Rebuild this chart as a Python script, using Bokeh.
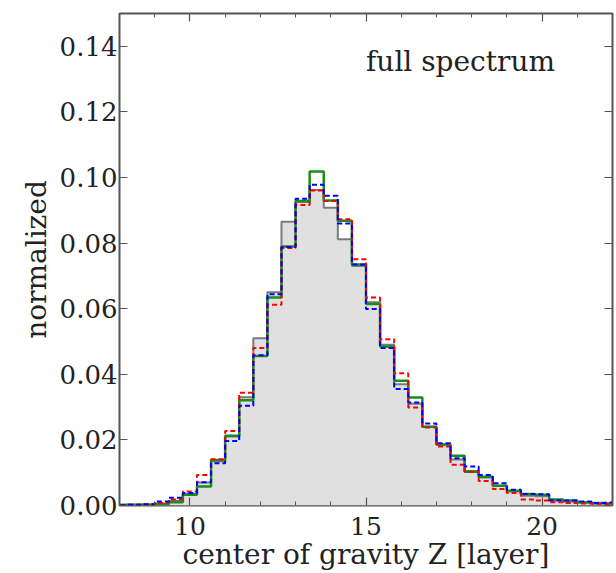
from bokeh.plotting import figure
from bokeh.models import Range1d, FixedTicker, LinearAxis, PrintfTickFormatter, Label
from bokeh.embed import file_html
from bokeh.resources import INLINE

# bin edges of the histograms (layer units)
edges = [7.8, 8.2, 8.6, 9.0, 9.4, 9.8, 10.2, 10.6, 11.0, 11.4, 11.8, 12.2, 12.6,
         13.0, 13.4, 13.8, 14.2, 14.6, 15.0, 15.4, 15.8, 16.2, 16.6, 17.0, 17.4,
         17.8, 18.2, 18.6, 19.0, 19.4, 19.8, 20.2, 20.6, 21.0, 21.4, 21.8, 22.2]

gray_vals = [0.0001, 0.0002, 0.0003, 0.0006, 0.0014, 0.0035, 0.0070, 0.0135, 0.0210,
             0.0330, 0.0510, 0.0650, 0.0865, 0.0925, 0.0962, 0.0908, 0.0812, 0.0730,
             0.0620, 0.0490, 0.0370, 0.0310, 0.0240, 0.0185, 0.0140, 0.0105, 0.0085,
             0.0060, 0.0043, 0.0030, 0.0028, 0.0015, 0.0012, 0.0009, 0.0006, 0.0005]
red_vals = [0.0001, 0.0002, 0.0002, 0.0008, 0.0018, 0.0043, 0.0093, 0.0141, 0.0227,
            0.0344, 0.0480, 0.0612, 0.0785, 0.0916, 0.0960, 0.0928, 0.0873, 0.0751,
            0.0634, 0.0507, 0.0403, 0.0299, 0.0238, 0.0180, 0.0124, 0.0103, 0.0075,
            0.0050, 0.0038, 0.0018, 0.0015, 0.0010, 0.0008, 0.0006, 0.0005, 0.0004]
blue_vals = [0.0001, 0.0002, 0.0004, 0.0012, 0.0024, 0.0038, 0.0071, 0.0129, 0.0197,
             0.0304, 0.0458, 0.0644, 0.0788, 0.0935, 0.0978, 0.0944, 0.0860, 0.0735,
             0.0599, 0.0480, 0.0355, 0.0314, 0.0250, 0.0190, 0.0144, 0.0119, 0.0093,
             0.0068, 0.0048, 0.0035, 0.0034, 0.0016, 0.0015, 0.0012, 0.0008, 0.0009]
green_vals = [0.0002, 0.0002, 0.0002, 0.0004, 0.0010, 0.0033, 0.0058, 0.0139, 0.0213,
              0.0321, 0.0456, 0.0634, 0.0790, 0.0928, 0.1018, 0.0930, 0.0868, 0.0735,
              0.0614, 0.0485, 0.0380, 0.0329, 0.0240, 0.0186, 0.0152, 0.0103, 0.0088,
              0.0060, 0.0045, 0.0035, 0.0033, 0.0018, 0.0015, 0.0010, 0.0008, 0.0006]

x_major = [10, 15, 20]
x_minor = [8, 9, 11, 12, 13, 14, 16, 17, 18, 19, 21, 22]
y_major = [0.00, 0.02, 0.04, 0.06, 0.08, 0.10, 0.12, 0.14]

FONT = "DejaVu Serif"
TXT = "#222222"
FRAME = "#555555"

p = figure(width=614, height=573, x_range=Range1d(8, 22), y_range=Range1d(0, 0.15),
           output_backend="svg", toolbar_location=None,
           min_border_left=119, min_border_right=2, min_border_top=13, min_border_bottom=60)
p.grid.visible = False
p.background_fill_color = "white"
p.border_fill_color = "white"
p.outline_line_color = FRAME
p.outline_line_width = 2

# histograms
p.varea_step(x=edges, y1=[0] * len(edges), y2=gray_vals + gray_vals[-1:],
             step_mode="after", fill_color="#e0e0e0")
p.step(edges, gray_vals + gray_vals[-1:], mode="after", line_color="#7a7a7a", line_width=2)
p.step(edges, green_vals + green_vals[-1:], mode="after", line_color="#1a8c1a", line_width=2.5)
p.step(edges, red_vals + red_vals[-1:], mode="after", line_color="#ff0000", line_width=2,
       line_dash="5 3")
p.step(edges, blue_vals + blue_vals[-1:], mode="after", line_color="#0000ff", line_width=2,
       line_dash="5 3")

xt = FixedTicker(ticks=x_major, minor_ticks=x_minor)
yt = FixedTicker(ticks=y_major, minor_ticks=[])

def style(ax, labels=True):
    ax.axis_line_color = None
    ax.major_tick_in = 8
    ax.major_tick_out = 0
    ax.minor_tick_in = 4
    ax.minor_tick_out = 0
    ax.major_tick_line_color = FRAME
    ax.minor_tick_line_color = FRAME
    ax.major_tick_line_width = 1.2
    ax.minor_tick_line_width = 1.0
    ax.major_label_text_font = FONT
    ax.major_label_text_color = TXT
    ax.axis_label_text_font = FONT
    ax.axis_label_text_color = TXT
    ax.axis_label_text_font_style = "normal"
    if not labels:
        ax.major_label_text_font_size = "0px"
        ax.major_label_standoff = 0

xa = p.xaxis[0]
xa.ticker = xt
style(xa)
xa.major_label_text_font_size = "25px"
xa.axis_label = "center of gravity Z [layer]"
xa.axis_label_text_font_size = "28px"
xa.major_label_standoff = 11
xa.axis_label_standoff = 0

ya = p.yaxis[0]
ya.ticker = yt
ya.formatter = PrintfTickFormatter(format="%.2f")
style(ya)
ya.major_label_text_font_size = "26px"
ya.axis_label = "normalized"
ya.axis_label_text_font_size = "28px"
ya.major_label_standoff = 2
ya.axis_label_standoff = 4

top_ax = LinearAxis(ticker=xt)
style(top_ax, labels=False)
p.add_layout(top_ax, "above")
right_ax = LinearAxis(ticker=yt)
style(right_ax, labels=False)
p.add_layout(right_ax, "right")

p.add_layout(Label(x=15.0, y=0.1355, text="full spectrum", text_font=FONT,
                   text_font_size="28px", text_color=TXT, text_align="left",
                   text_baseline="alphabetic"))

open("out.html", "w").write(file_html(p, INLINE))
